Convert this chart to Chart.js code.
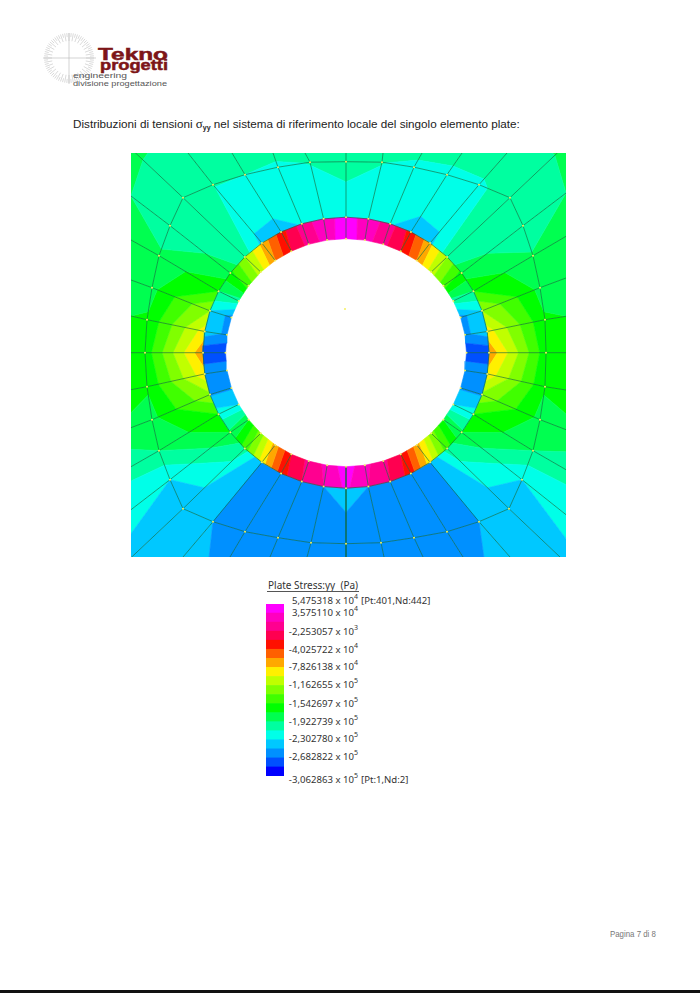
<!DOCTYPE html>
<html>
<head>
<meta charset="utf-8">
<script src="https://cdn.jsdelivr.net/npm/chart.js@4"></script>
<style>
  html, body { margin: 0; padding: 0; background: #fff; }
  #page { position: relative; width: 700px; height: 993px; overflow: hidden; font-family: "Liberation Sans", sans-serif; color: #222; }
  #page > * { position: absolute; }
  canvas { display: block; }
  #stressWrap { left: 131px; top: 153px; width: 435px; height: 404px; filter: blur(0.45px); }
  #barWrap { left: 266px; top: 604px; width: 18px; height: 172px; filter: blur(0.3px); }
  #title { left: 73px; top: 116px; font-size: 11.7px; white-space: nowrap; }
  #title .sig { font-family: "Liberation Serif", serif; font-size: 13px; }
  #title sub { font-size: 7px; font-weight: bold; vertical-align: -2px; line-height: 0; }
  #legendTitle { left: 268px; top: 578px; font: 10px "Noto Sans", sans-serif; white-space: pre; color: #333; }
  #legendRule { left: 267px; top: 591px; width: 92px; height: 1px; background: #555; }
  .lab { font: 9.6px "Noto Sans", sans-serif; color: #333; white-space: nowrap; line-height: 12px; }
  .lab sup { font-size: 7px; line-height: 0; vertical-align: 5px; }
  #footer { left: 610px; top: 928px; font-size: 9.6px; color: #777; white-space: nowrap; transform: scaleX(0.82); transform-origin: left; }
  #blackBar { left: 0; top: 990px; width: 700px; height: 3px; background: #111; }
  #logo { left: 40px; top: 28px; }
</style>
</head>
<body>
<div id="page">
  <svg id="logo" width="135" height="64" viewBox="40 28 135 64"></svg>
  <div id="title">Distribuzioni di tensioni <span class="sig">σ</span><sub>yy</sub> nel sistema di riferimento locale del singolo elemento plate:</div>
  <div id="stressWrap"><canvas id="stressChart" width="435" height="404"></canvas></div>
  <div id="legendTitle">Plate Stress:yy  (Pa)</div>
  <div id="legendRule"></div>
  <div id="barWrap"><canvas id="barChart" width="18" height="172"></canvas></div>
  <div id="footer">Pagina 7 di 8</div>
  <div id="blackBar"></div>
</div>

<script>
// Fasce di colore, dal livello 0 (-3,06e5 Pa) al livello 18; ogni fascia vale circa 19 kPa
const bandColors = ['#0000ff', '#0050ff', '#0090ff', '#00c8ff', '#00ffe8', '#00ffa0', '#00ff50', '#00ff00', '#40ff00', '#80ff00',
  '#c0ff00', '#fff000', '#ffa800', '#ff6000', '#ff1000', '#ff0050', '#ff0090', '#ff00c0', '#ff00ff'];

// Etichette della legenda
const legendMantissa = ['5,475318', '3,575110', '-2,253057', '-4,025722', '-7,826138', '-1,162655', '-1,542697', '-1,922739', '-2,302780', '-2,682822', '-3,062863'];
const legendExponent = [4, 4, 3, 4, 4, 5, 5, 5, 5, 5, 5];
const legendTop = [595, 607, 626, 644, 661, 679, 698, 716, 733, 751, 774];
const legendNotes = { 0: '[Pt:401,Nd:442]', 10: '[Pt:1,Nd:2]' };

// Mesh: raggi dei due anelli interni e nodi 0..39, in senso orario dall'alto
const sectorCount = 40;
const holeRadius = [120.5, 114];
const ringOneRadius = [143, 135.5];
const ringTwoX = [0, 36, 68, 101, 133, 164, 177, 187, 194, 199, 200, 199, 194, 187, 176, 163, 133, 101, 68, 35, 0,
  -35, -68, -101, -133, -163, -176, -187, -194, -199, -201, -199, -194, -187, -176, -163, -133, -101, -68, -36];
const ringTwoY = [191, 190.5, 185.5, 178, 168, 155, 127, 97, 65, 33, 0, -34, -67, -98, -127, -156, -169, -179, -185, -190, -191,
  -190, -185, -179, -169, -156, -127, -98, -67, -34, 0, 33, 65, 97, 127, 155, 168, 178, 185.5, 190.5];
const outerX = [0, 37, 76, 116, 161, 220, 220, 220, 220, 220, 220, 220, 220, 220, 220, 220, 164, 117, 77, 38, 0,
  -39, -76, -116, -163, -215, -215, -215, -215, -215, -215, -215, -215, -215, -215, -215, -158, -114, -73, -41];
const outerY = [199.7, 199.7, 199.7, 199.7, 199.7, 208, 159.7, 116.4, 74.7, 36.4, 0, -37.3, -77, -117, -162, -210, -204.3, -204.3, -204.3, -204.3, -204.3,
  -204.3, -204.3, -204.3, -204.3, -205, -157, -114, -75, -37, 0, 36.7, 72.7, 112.7, 156.7, 204, 199.7, 199.7, 199.7, 199.7];
const centerNode = [{ x: -1, y: 43.7 }];

// Livelli di tensione letti ai nodi, per anello
const holeLevels = [18.7, 17.5, 16.3, 15.0, 13.0, 10.5, 8.5, 5.5, 2.6, 2.8, 1.1, 3.0, 2.9, 4.0, 7.0, 9.5, 12.5, 15.0, 16.3, 17.3, 18.6,
  17.3, 16.3, 15.0, 12.5, 9.5, 7.0, 4.0, 2.9, 3.0, 1.1, 2.8, 2.6, 5.5, 8.5, 10.5, 13.0, 15.0, 16.3, 17.5];
const ringOneInner = [18.4, 17.6, 16.5, 14.6, 12.3, 10.0, 7.7, 6.0, 4.0, 3.6, 1.2, 2.7, 2.9, 4.5, 6.2, 8.5, 11.5, 14.6, 16.0, 17.0, 18.2,
  17.0, 16.0, 14.6, 11.5, 8.5, 6.2, 4.5, 2.9, 2.7, 1.2, 3.6, 4.0, 6.0, 7.7, 10.0, 12.3, 14.6, 16.5, 17.6];
const ringOneOuter = [4.3, 4.2, 4.05, 3.7, 3.8, 5.5, 6.5, 8.0, 10.0, 11.5, 12.8, 11.7, 9.8, 8.0, 7.0, 5.5, 3.0, 2.7, 2.5, 3.0, 3.35,
  3.0, 2.5, 2.7, 3.0, 5.5, 7.0, 8.0, 9.8, 11.7, 12.8, 11.5, 10.0, 8.0, 6.5, 5.5, 3.8, 3.7, 4.05, 4.2];
const ringTwoLevels = [5.4, 5.05, 4.7, 4.8, 4.85, 5.4, 5.3, 6.1, 6.7, 7.1, 7.4, 7.1, 6.7, 6.0, 4.0, 3.2, 3.0, 2.5, 2.5, 2.55, 2.55,
  2.55, 2.5, 2.5, 3.0, 3.2, 4.0, 6.0, 6.7, 7.1, 7.4, 7.1, 6.7, 6.2, 5.3, 5.5, 5.05, 5.0, 4.8, 5.05];
const outerLevels = [5.5, 5.4, 5.3, 5.3, 5.7, 6.15, 6.0, 6.1, 6.3, 7.0, 7.2, 7.2, 6.87, 5.3, 4.4, 3.6, 3.5, 2.6, 2.6, 2.6, 2.6,
  2.6, 2.6, 2.6, 3.5, 3.6, 4.4, 5.3, 6.87, 7.2, 7.2, 7.0, 6.3, 6.1, 6.0, 6.15, 5.7, 5.3, 5.3, 5.4];

function circleNodes(radius) {
  const nodes = [];
  for (let k = 0; k < sectorCount; k++) {
    const a = k * 2 * Math.PI / sectorCount;
    nodes.push({ x: radius[0] * Math.sin(a), y: radius[1] * Math.cos(a) });
  }
  return nodes;
}
function arrayNodes(xs, ys) {
  return xs.map((x, k) => ({ x: x, y: ys[k] }));
}

const holeNodes = circleNodes(holeRadius);
const ringOneNodes = circleNodes(ringOneRadius);
const ringTwoNodes = arrayNodes(ringTwoX, ringTwoY);
const outerNodes = arrayNodes(outerX, outerY);

// Taglia un poligono (vertici con valore v) su una soglia
function clipAt(poly, limit, keepAbove) {
  const out = [];
  for (let i = 0; i < poly.length; i++) {
    const a = poly[i], b = poly[(i + 1) % poly.length];
    const aIn = keepAbove ? a.v >= limit : a.v <= limit;
    const bIn = keepAbove ? b.v >= limit : b.v <= limit;
    if (aIn) out.push(a);
    if (aIn !== bIn) {
      const t = (limit - a.v) / (b.v - a.v);
      out.push({ x: a.x + t * (b.x - a.x), y: a.y + t * (b.y - a.y), v: limit });
    }
  }
  return out;
}

const contourSets = [];
function addElements(innerNodes, innerVals, outerNodesRing, outerVals) {
  for (let k = 0; k < sectorCount; k++) {
    const n = (k + 1) % sectorCount;
    const quad = [
      { x: innerNodes[k].x, y: innerNodes[k].y, v: innerVals[k] },
      { x: innerNodes[n].x, y: innerNodes[n].y, v: innerVals[n] },
      { x: outerNodesRing[n].x, y: outerNodesRing[n].y, v: outerVals[n] },
      { x: outerNodesRing[k].x, y: outerNodesRing[k].y, v: outerVals[k] },
    ];
    for (let b = 0; b < bandColors.length; b++) {
      let poly = clipAt(quad, b === 0 ? -1 : b, true);
      if (poly.length) poly = clipAt(poly, b === bandColors.length - 1 ? 99 : b + 1, false);
      if (poly.length < 3) continue;
      contourSets.push({
        data: poly.concat([poly[0]]).map(p => ({ x: p.x, y: p.y })),
        showLine: true,
        fill: 'shape',
        backgroundColor: bandColors[b],
        borderColor: bandColors[b],
        borderWidth: 0.6,
        pointRadius: 0,
        tension: 0,
        order: 3,
      });
    }
  }
}
addElements(holeNodes, holeLevels, ringOneNodes, ringOneInner);
addElements(ringOneNodes, ringOneOuter, ringTwoNodes, ringTwoLevels);
addElements(ringTwoNodes, ringTwoLevels, outerNodes, outerLevels);

// Linee della mesh
const meshColor = 'rgba(15,105,58,0.8)';
function meshLine(points) {
  return { data: points, showLine: true, fill: false, borderColor: meshColor, borderWidth: 0.8, pointRadius: 0, tension: 0, order: 2 };
}
const meshSets = [];
[ringOneNodes, ringTwoNodes].forEach(ring => {
  meshSets.push(meshLine(ring.concat([ring[0]])));
});
for (let k = 0; k < sectorCount; k++) {
  meshSets.push(meshLine([holeNodes[k], ringOneNodes[k], ringTwoNodes[k], outerNodes[k]]));
}

// Nodi gialli
const nodeSet = {
  data: holeNodes.concat(ringOneNodes, ringTwoNodes, centerNode),
  showLine: false,
  pointRadius: 1,
  pointBorderWidth: 0,
  pointBackgroundColor: '#f4f060',
  order: 1,
};

new Chart(document.getElementById('stressChart'), {
  type: 'scatter',
  data: { datasets: [nodeSet].concat(meshSets, contourSets) },
  options: {
    responsive: false,
    animation: false,
    events: [],
    devicePixelRatio: 1,
    layout: { padding: 0, autoPadding: false },
    plugins: { legend: { display: false }, tooltip: { enabled: false }, title: { display: false } },
    scales: {
      x: { type: 'linear', min: -215, max: 220, display: false },
      y: { type: 'linear', min: -204.3, max: 199.7, display: false },
    },
  },
});

// Barra dei colori della legenda
new Chart(document.getElementById('barChart'), {
  type: 'bar',
  data: {
    labels: ['Pa'],
    datasets: bandColors.map((c, i) => ({
      data: [[i, i + 1]],
      backgroundColor: c,
      borderWidth: 0,
      barPercentage: 1,
      categoryPercentage: 1,
      grouped: false,
    })),
  },
  options: {
    responsive: false,
    animation: false,
    events: [],
    devicePixelRatio: 1,
    layout: { padding: 0, autoPadding: false },
    plugins: { legend: { display: false }, tooltip: { enabled: false } },
    scales: {
      x: { display: false },
      y: { min: 0, max: 19, display: false },
    },
  },
});

// Etichette della legenda come testo reale
const page = document.getElementById('page');
legendMantissa.forEach((m, i) => {
  const lab = document.createElement('div');
  lab.className = 'lab';
  lab.style.right = (700 - 358) + 'px';
  lab.style.top = legendTop[i] + 'px';
  lab.innerHTML = m + ' x 10<sup>' + legendExponent[i] + '</sup>';
  page.appendChild(lab);
  if (legendNotes[i]) {
    const note = document.createElement('div');
    note.className = 'lab';
    note.style.left = '361px';
    note.style.top = legendTop[i] + 'px';
    note.textContent = legendNotes[i];
    page.appendChild(note);
  }
});

// Logo
let logo = '';
for (let i = 0; i < 72; i++) {
  const a = i * Math.PI / 36;
  const inner = i % 2 ? 21 : 17;
  logo += '<line x1="' + (69 + inner * Math.cos(a)) + '" y1="' + (58 + inner * Math.sin(a)) + '" x2="' + (69 + 25 * Math.cos(a)) + '" y2="' + (58 + 25 * Math.sin(a)) + '" stroke="#b5b5b5" stroke-width="0.5"/>';
}
logo += '<line x1="43" y1="58" x2="96" y2="58" stroke="#b5b5b5" stroke-width="0.6"/><line x1="69" y1="33" x2="69" y2="84" stroke="#b5b5b5" stroke-width="0.6"/>';
logo += '<text x="98" y="59.5" font-family="Liberation Sans" font-weight="bold" font-size="16.5" fill="#7d1518" textLength="70" lengthAdjust="spacingAndGlyphs" stroke="#7d1518" stroke-width="0.5">Tekno</text>';
logo += '<text x="100" y="69.5" font-family="Liberation Sans" font-weight="bold" font-size="15" fill="#7d1518" textLength="68" lengthAdjust="spacingAndGlyphs" stroke="#7d1518" stroke-width="0.5">progetti</text>';
logo += '<text x="73" y="78" font-family="Liberation Sans" font-size="8" fill="#555" textLength="54" lengthAdjust="spacingAndGlyphs">engineering</text>';
logo += '<text x="73" y="86" font-family="Liberation Sans" font-size="8" fill="#555" textLength="94" lengthAdjust="spacingAndGlyphs">divisione progettazione</text>';
document.getElementById('logo').innerHTML = logo;
</script>
</body>
</html>
